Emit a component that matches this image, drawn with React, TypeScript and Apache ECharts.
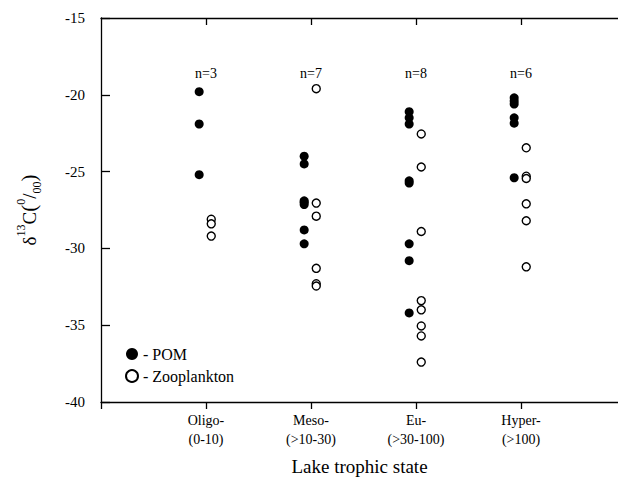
import React, { useEffect, useRef } from "react";
import * as echarts from "echarts";

const categories = ["Oligo-\n(0-10)", "Meso-\n(>10-30)", "Eu-\n(>30-100)", "Hyper-\n(>100)"];
const categoryPositions = [1, 2, 3, 4];
const counts = [3, 7, 8, 6];
const pomOligo = [-19.8, -21.9, -25.2];
const pomMeso = [-24.0, -24.5, -26.9, -27.0, -27.15, -28.8, -29.7];
const pomEu = [-21.1, -21.5, -21.9, -25.6, -25.75, -29.7, -30.8, -34.2];
const pomHyper = [-20.2, -20.4, -20.6, -21.5, -21.85, -25.4];
const zooOligo = [-28.1, -28.4, -29.2];
const zooMeso = [-19.6, -27.05, -27.9, -31.3, -32.3, -32.45];
const zooEu = [-22.55, -24.7, -28.9, -33.4, -34.0, -35.05, -35.7, -37.4];
const zooHyper = [-23.45, -25.3, -25.45, -27.1, -28.2, -31.2];
const yTicks = [-40, -35, -30, -25, -20, -15];
const countLabelY = -18.6;

const pomGroups = [pomOligo, pomMeso, pomEu, pomHyper];
const zooGroups = [zooOligo, zooMeso, zooEu, zooHyper];

const FONT = "Liberation Serif";
const INK = "#000";

export default function App() {
  const ref = useRef<HTMLDivElement>(null);
  useEffect(() => {
    document.body.style.margin = "0";
    if (!ref.current) return;
    const chart = echarts.init(ref.current, null, { renderer: "svg" });
    const pomData: number[][] = [];
    pomGroups.forEach((g, i) => g.forEach((v) => pomData.push([categoryPositions[i] - 0.065, v])));
    const zooData: number[][] = [];
    zooGroups.forEach((g, i) => g.forEach((v) => zooData.push([categoryPositions[i] + 0.05, v])));
    const countData = counts.map((c, i) => [categoryPositions[i], countLabelY, c]);
    const xMax = 517 / 105;
    const lineStyle = { color: INK, width: 1.3 };
    chart.setOption({
      animation: false,
      textStyle: { fontFamily: FONT, color: INK },
      grid: { left: 101, right: 0, top: 18, bottom: 83 },
      legend: {
        orient: "vertical",
        left: 120,
        top: 341,
        itemWidth: 12,
        itemHeight: 12,
        itemGap: 6,
        icon: "circle",
        data: ["POM", "Zooplankton"],
        formatter: (n: string) => "- " + n,
        textStyle: { fontFamily: FONT, fontSize: 16, color: INK },
      },
      xAxis: [
        {
          type: "value",
          min: 0,
          max: xMax,
          interval: 1,
          position: "bottom",
          axisLine: { show: true, onZero: false, lineStyle },
          axisTick: { show: true, inside: false, length: 7, customValues: [0, ...categoryPositions], lineStyle },
          splitLine: { show: false },
          axisLabel: {
            fontFamily: FONT,
            fontSize: 14,
            color: INK,
            lineHeight: 19,
            margin: 9,
            customValues: categoryPositions,
            formatter: (v: number) => {
              const k = categoryPositions.indexOf(Math.round(v));
              return k >= 0 ? categories[k] : "";
            },
          },
          name: "Lake trophic state",
          nameLocation: "middle",
          nameGap: 55,
          nameTextStyle: { fontFamily: FONT, fontSize: 19, color: INK },
        },
        {
          type: "value",
          min: 0,
          max: xMax,
          interval: 1,
          position: "top",
          axisLine: { show: true, onZero: false, lineStyle },
          axisTick: { show: true, inside: true, length: 7, customValues: categoryPositions, lineStyle },
          splitLine: { show: false },
          axisLabel: { show: false },
        },
      ],
      yAxis: {
        type: "value",
        min: -40,
        max: -15,
        interval: 5,
        axisLine: { show: true, onZero: false, lineStyle },
        axisTick: { show: true, inside: true, length: 9, lineStyle },
        splitLine: { show: false },
        axisLabel: {
          fontFamily: FONT,
          fontSize: 15,
          color: INK,
          margin: 16,
          formatter: (v: number) => (yTicks.includes(v) ? String(v) : ""),
        },
        name: "{d|δ}{sup|13}{d|C}{p|(}{sup|0}{d|/}{sub|00}{p|)}",
        nameLocation: "middle",
        nameRotate: 90,
        nameGap: 58,
        nameTextStyle: {
          fontFamily: FONT,
          color: INK,
          rich: {
            d: { fontFamily: FONT, fontSize: 19, color: INK, verticalAlign: "middle", lineHeight: 28 },
            p: { fontFamily: FONT, fontSize: 21, color: INK, verticalAlign: "middle", lineHeight: 28 },
            sup: { fontFamily: FONT, fontSize: 12, color: INK, verticalAlign: "top", lineHeight: 28 },
            sub: { fontFamily: FONT, fontSize: 12, color: INK, verticalAlign: "bottom", lineHeight: 28 },
          },
        },
      },
      series: [
        {
          name: "POM",
          type: "scatter",
          data: pomData,
          symbol: "circle",
          symbolSize: 9,
          itemStyle: { color: "#000", opacity: 1 },
        },
        {
          name: "Zooplankton",
          type: "scatter",
          data: zooData,
          symbol: "circle",
          symbolSize: 8,
          itemStyle: { color: "#fff", borderColor: "#000", borderWidth: 1.4, opacity: 1 },
        },
        {
          name: "counts",
          type: "scatter",
          data: countData,
          symbolSize: 1,
          silent: true,
          itemStyle: { opacity: 0 },
          label: {
            show: true,
            position: "inside",
            fontFamily: FONT,
            fontSize: 14,
            color: INK,
            opacity: 1,
            formatter: (p: any) => "n=" + p.value[2],
          },
        },
      ],
    });
    return () => chart.dispose();
  }, []);
  return <div ref={ref} style={{ width: 618, height: 485, background: "#fff" }} />;
}
